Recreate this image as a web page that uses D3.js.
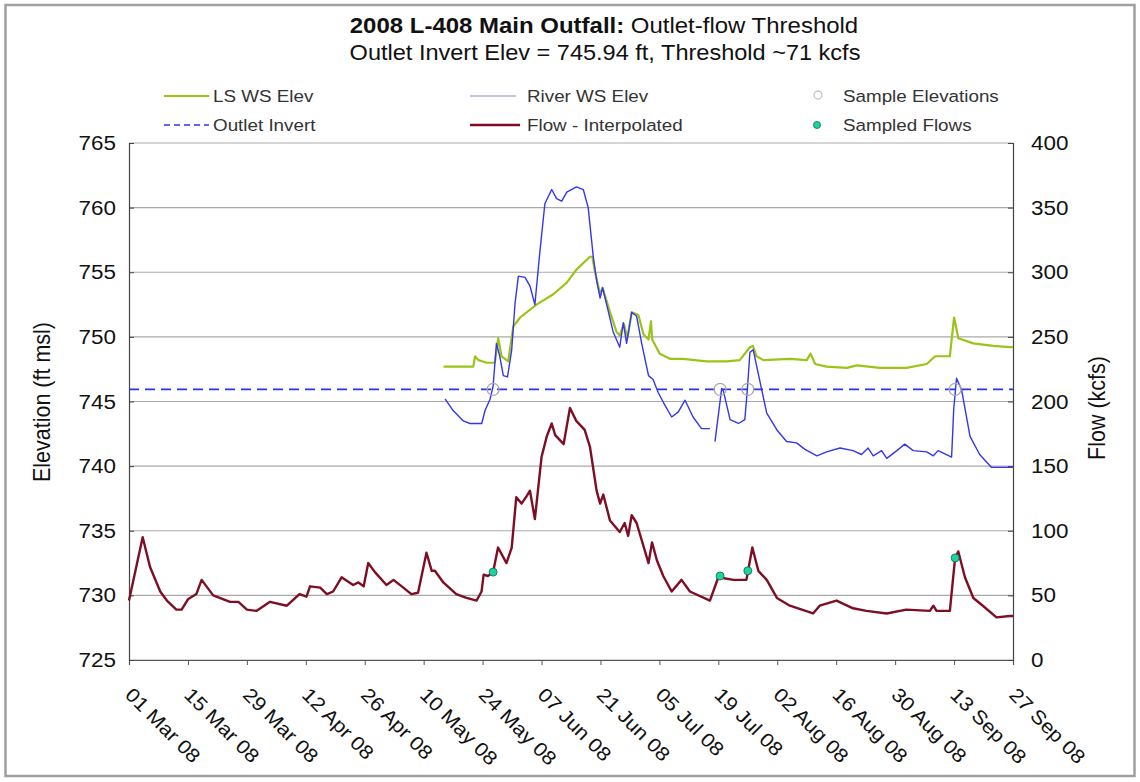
<!DOCTYPE html>
<html>
<head>
<meta charset="utf-8">
<script src="https://cdn.jsdelivr.net/npm/d3@7"></script>
<style>
  html, body { margin: 0; padding: 0; background: #fff; }
  svg { display: block; font-family: "Liberation Sans", Arial, sans-serif; }
</style>
</head>
<body>
<svg id="chart" width="1140" height="782"></svg>
<script>
// ---------------- DATA ----------------
const titleBold = "2008 L-408 Main Outfall:";
const titleRest = " Outlet-flow Threshold";
const subtitle = "Outlet Invert Elev = 745.94 ft, Threshold ~71 kcfs";

const xTickLabels = ["01 Mar 08","15 Mar 08","29 Mar 08","12 Apr 08","26 Apr 08","10 May 08","24 May 08",
  "07 Jun 08","21 Jun 08","05 Jul 08","19 Jul 08","02 Aug 08","16 Aug 08","30 Aug 08","13 Sep 08","27 Sep 08"];
const elevTicks = [725,730,735,740,745,750,755,760,765];
const flowTicks = [0,50,100,150,200,250,300,350,400];

const outletInvert = 745.94;

// Flow - Interpolated (kcfs)
const flowDates = ["2008-03-01 00","2008-03-04 06","2008-03-06 00","2008-03-08 10","2008-03-10 00","2008-03-12 06",
  "2008-03-13 12","2008-03-15 00","2008-03-17 00","2008-03-18 06","2008-03-21 00","2008-03-25 00","2008-03-27 00",
  "2008-03-29 00","2008-03-31 06","2008-04-03 12","2008-04-07 12","2008-04-10 12","2008-04-12 04","2008-04-13 00",
  "2008-04-15 10","2008-04-17 00","2008-04-18 12","2008-04-20 12","2008-04-23 06","2008-04-24 12","2008-04-25 18",
  "2008-04-26 20","2008-04-28 10","2008-05-01 04","2008-05-02 20","2008-05-05 04","2008-05-07 02","2008-05-08 16",
  "2008-05-10 16","2008-05-11 22","2008-05-12 16","2008-05-14 16","2008-05-17 18","2008-05-20 04","2008-05-22 14",
  "2008-05-23 18","2008-05-24 06","2008-05-25 06","2008-05-26 12","2008-05-27 16","2008-05-29 16","2008-05-30 22",
  "2008-06-01 00","2008-06-02 06","2008-06-03 12","2008-06-04 06","2008-06-05 10","2008-06-07 00","2008-06-08 06",
  "2008-06-09 10","2008-06-10 06","2008-06-12 06","2008-06-13 18","2008-06-15 06","2008-06-17 06","2008-06-18 12",
  "2008-06-20 02","2008-06-20 22","2008-06-21 16","2008-06-23 06","2008-06-25 14","2008-06-26 18","2008-06-27 14",
  "2008-06-28 10","2008-06-29 14","2008-07-02 10","2008-07-03 06","2008-07-04 10","2008-07-05 22","2008-07-07 22",
  "2008-07-10 06","2008-07-12 06","2008-07-17 00","2008-07-19 00","2008-07-22 14","2008-07-25 16","2008-07-27 02",
  "2008-07-28 12","2008-07-30 12","2008-08-01 22","2008-08-05 00","2008-08-10 12","2008-08-12 02","2008-08-16 02",
  "2008-08-20 00","2008-08-23 04","2008-08-28 00","2008-09-01 16","2008-09-07 06","2008-09-08 02","2008-09-08 20",
  "2008-09-12 00","2008-09-13 06","2008-09-14 00","2008-09-15 14","2008-09-17 14","2008-09-19 20","2008-09-23 02",
  "2008-09-26 06","2008-09-27 00"];
const flowKcfs = [46,95,72,53,46,39,39,47,51,62,50,45,45,39,38,45,42,51,49,57,56,51,53,64,58,60,57,75,68,58,62,56,51,52,
  83,69,69,60,51,48,46,53,66,65,68,87,75,87,126,121,127,131,109,157,173,183,174,167,195,185,178,165,131,121,128,108,
  99,106,96,112,106,75,91,77,65,53,62,53,46,64,62,62,87,69,62,48,42,36,42,46,40,38,36,39,38,42,38,38,79,84,64,48,42,
  33,34,34];

// River WS Elev (ft msl), null = data gap
const riverDates = ["2008-05-15 02","2008-05-17 00","2008-05-19 10","2008-05-21 00","2008-05-23 19","2008-05-24 14",
  "2008-05-25 19","2008-05-26 12","2008-05-27 07","2008-05-28 02","2008-05-28 22","2008-05-29 22","2008-05-30 22",
  "2008-05-31 17","2008-06-01 12","2008-06-03 02","2008-06-04 07","2008-06-05 10","2008-06-06 14","2008-06-07 19",
  "2008-06-09 10","2008-06-10 14","2008-06-11 19","2008-06-13 00","2008-06-15 07","2008-06-16 22","2008-06-18 02",
  "2008-06-19 07","2008-06-20 02","2008-06-20 22","2008-06-21 12","2008-06-22 22","2008-06-24 00","2008-06-25 14",
  "2008-06-26 10","2008-06-27 05","2008-06-28 10","2008-06-29 14","2008-06-30 19","2008-07-02 10","2008-07-03 12",
  "2008-07-04 17","2008-07-06 00","2008-07-07 22","2008-07-09 12","2008-07-11 02","2008-07-13 00","2008-07-15 00",
  "2008-07-17 00","2008-07-17 14","2008-07-18 05","2008-07-19 19","2008-07-20 05","2008-07-21 19","2008-07-23 19",
  "2008-07-25 07","2008-07-25 22","2008-07-26 12","2008-07-27 07","2008-07-28 22","2008-07-30 12","2008-08-01 22",
  "2008-08-04 05","2008-08-06 14","2008-08-08 14","2008-08-11 10","2008-08-13 17","2008-08-16 22","2008-08-20 00",
  "2008-08-22 00","2008-08-23 14","2008-08-24 19","2008-08-26 19","2008-08-28 00","2008-08-30 10","2008-09-01 07",
  "2008-09-03 07","2008-09-06 12","2008-09-08 02","2008-09-09 05","2008-09-12 10","2008-09-12 22","2008-09-13 14",
  "2008-09-14 19","2008-09-16 19","2008-09-19 02","2008-09-21 22","2008-09-26 07","2008-09-27 00"];
const riverElev = [745.2,744.3,743.5,743.3,743.3,744.3,745.2,746.2,749.5,748.5,747.0,746.9,749.0,752.6,754.7,754.6,
  753.9,752.5,756.5,760.3,761.4,760.7,760.5,761.2,761.6,761.4,760.0,756.2,754.4,753.0,753.8,751.9,750.4,749.2,751.1,
  749.5,751.9,751.6,749.5,747.0,746.7,745.7,744.9,743.8,744.2,745.1,743.8,742.9,742.9,null,741.9,746.0,745.8,743.6,
  743.3,743.6,746.0,748.8,749.0,746.5,744.1,742.8,741.9,741.8,741.3,740.8,741.1,741.4,741.2,740.9,741.4,740.8,741.2,
  740.6,741.2,741.7,741.2,741.1,740.8,741.2,740.7,744.4,746.8,745.9,742.3,740.9,739.9,739.9,739.9];

// LS WS Elev (ft msl)
const lsDates = ["2008-05-14 17","2008-05-21 19","2008-05-22 05","2008-05-23 00","2008-05-25 00","2008-05-26 22",
  "2008-05-27 17","2008-05-28 12","2008-05-30 02","2008-05-31 07","2008-06-01 22","2008-06-05 19","2008-06-09 19",
  "2008-06-13 00","2008-06-15 07","2008-06-18 12","2008-06-19 02","2008-06-19 17","2008-06-20 22","2008-06-21 12",
  "2008-06-23 07","2008-06-24 19","2008-06-25 14","2008-06-26 14","2008-06-27 10","2008-06-28 10","2008-06-30 00",
  "2008-07-01 05","2008-07-02 10","2008-07-03 00","2008-07-03 07","2008-07-05 02","2008-07-07 12","2008-07-10 14",
  "2008-07-16 05","2008-07-21 00","2008-07-24 02","2008-07-26 12","2008-07-27 05","2008-07-28 02","2008-07-29 17",
  "2008-08-05 00","2008-08-09 00","2008-08-09 22","2008-08-11 00","2008-08-13 17","2008-08-18 12","2008-08-20 22",
  "2008-08-26 10","2008-09-01 17","2008-09-06 12","2008-09-08 12","2008-09-12 00","2008-09-13 00","2008-09-14 00",
  "2008-09-17 14","2008-09-22 07","2008-09-26 07","2008-09-27 00"];
const lsElev = [747.7,747.7,748.5,748.2,748.0,748.0,749.9,748.5,748.1,750.8,751.5,752.5,753.3,754.2,755.2,756.2,756.2,
  755.0,753.3,753.8,751.9,750.4,750.1,751.0,749.9,751.9,751.7,750.2,749.8,751.2,749.8,748.7,748.3,748.3,748.1,748.1,
  748.2,749.2,749.3,748.5,748.2,748.3,748.2,748.7,747.9,747.7,747.6,747.8,747.6,747.6,747.9,748.5,748.5,751.5,749.9,
  749.5,749.3,749.2,749.2];

// Samples
const sampleDates = ["2008-05-26 12","2008-07-19 10","2008-07-26 00","2008-09-13 06"];
const sampleElev = [745.94,745.94,745.94,745.94];
const sampledFlowKcfs = [68,65,69,79];

// ---------------- CHART ----------------
const parse = d3.timeParse("%Y-%m-%d %H");
const svg = d3.select("#chart");
const m = {left: 129, right: 1013, top: 143, bottom: 660};
const SX = 1.14; // horizontal text stretch of the original picture

const x = d3.scaleTime().domain([parse("2008-03-01 00"), parse("2008-09-27 00")]).range([m.left, m.right]);
const yL = d3.scaleLinear().domain([725, 765]).range([m.bottom, m.top]);
const yR = d3.scaleLinear().domain([0, 400]).range([m.bottom, m.top]);

function txt(parent, px, py, s, opts) {
  opts = opts || {};
  const sx = opts.sx || SX;
  const rot = opts.rotate ? ` rotate(${opts.rotate})` : "";
  const sc = opts.vertical ? `scale(1,${sx})` : `scale(${sx},1)`;
  return parent.append("text")
    .attr("transform", `translate(${px},${py})${rot} ${sc}`)
    .attr("text-anchor", opts.anchor || "start")
    .attr("font-size", opts.size || 16)
    .attr("font-weight", opts.weight || "normal")
    .attr("fill", opts.fill || "#111")
    .text(s);
}

// outer frame
svg.append("rect").attr("x", 5.5).attr("y", 5).attr("width", 1129).attr("height", 771)
  .attr("fill", "none").attr("stroke", "#a0a0a0").attr("stroke-width", 2.5);

// title
const t = txt(svg, 604, 33, "", {anchor: "middle", size: 22, sx: 1.09});
t.append("tspan").attr("font-weight", "bold").text(titleBold);
t.append("tspan").text(titleRest);
txt(svg, 605, 60, subtitle, {anchor: "middle", size: 22, sx: 1.07});

// gridlines
svg.append("g").selectAll("line").data(elevTicks).join("line")
  .attr("x1", m.left).attr("x2", m.right)
  .attr("y1", d => yL(d)).attr("y2", d => yL(d))
  .attr("stroke", "#a9a9a9").attr("stroke-width", 1.2);

// x axis
const tickDates = d3.range(xTickLabels.length).map(i => d3.timeDay.offset(parse("2008-03-01 00"), i * 14));
const gx = svg.append("g").attr("transform", `translate(0,${m.bottom})`)
  .call(d3.axisBottom(x).tickValues(tickDates).tickSize(5).tickFormat(""));
gx.select(".domain").attr("stroke", "#555").attr("stroke-width", 1.2);
gx.selectAll(".tick line").attr("stroke", "#555");
const gxl = svg.append("g");
tickDates.forEach((d, i) => txt(gxl, x(d) - 5, m.bottom + 36, xTickLabels[i], {rotate: 45, size: 19.5, sx: 1.1}));

// left axis
const gl = svg.append("g").attr("transform", `translate(${m.left},0)`)
  .call(d3.axisLeft(yL).tickValues(elevTicks).tickSize(-5).tickFormat(""));
gl.select(".domain").attr("stroke", "#444").attr("stroke-width", 1.2);
gl.selectAll(".tick line").attr("stroke", "#444");
const gll = svg.append("g");
elevTicks.forEach(v => txt(gll, 116, yL(v) + 7, String(v), {anchor: "end", size: 19.5, sx: 1.15}));

// right axis
const gr = svg.append("g").attr("transform", `translate(${m.right},0)`)
  .call(d3.axisRight(yR).tickValues(flowTicks).tickSize(-5).tickFormat(""));
gr.select(".domain").attr("stroke", "#444").attr("stroke-width", 1.2);
gr.selectAll(".tick line").attr("stroke", "#444");
const grl = svg.append("g");
flowTicks.forEach(v => txt(grl, 1031, yR(v) + 7, String(v), {anchor: "start", size: 19.5, sx: 1.15}));

// axis titles
txt(svg, 50, 402, "Elevation (ft msl)", {anchor: "middle", rotate: -90, size: 21.5, vertical: true, sx: 1.12});
txt(svg, 1105, 408, "Flow (kcfs)", {anchor: "middle", rotate: -90, size: 21.5, vertical: true, sx: 1.12});

// series
const flowData = flowDates.map((d, i) => ({date: parse(d), v: flowKcfs[i]}));
const riverData = riverDates.map((d, i) => ({date: parse(d), v: riverElev[i]}));
const lsData = lsDates.map((d, i) => ({date: parse(d), v: lsElev[i]}));

const lineL = d3.line().defined(d => d.v !== null).x(d => x(d.date)).y(d => yL(d.v));
const lineR = d3.line().x(d => x(d.date)).y(d => yR(d.v));

// outlet invert dashed
svg.append("line").attr("x1", m.left).attr("x2", m.right)
  .attr("y1", yL(outletInvert)).attr("y2", yL(outletInvert))
  .attr("stroke", "#2f2ff0").attr("stroke-width", 1.6).attr("stroke-dasharray", "10,6");

svg.append("path").datum(lsData).attr("d", lineL).attr("fill", "none")
  .attr("stroke", "#9cc417").attr("stroke-width", 2.2).attr("stroke-linejoin", "round");
svg.append("path").datum(riverData).attr("d", lineL).attr("fill", "none")
  .attr("stroke", "#3535f2").attr("stroke-width", 1.4).attr("stroke-linejoin", "round");
svg.append("path").datum(flowData).attr("d", lineR).attr("fill", "none")
  .attr("stroke", "#7d0e24").attr("stroke-width", 2.4).attr("stroke-linejoin", "round");

// sample elevations (open circles)
svg.append("g").selectAll("circle").data(sampleDates).join("circle")
  .attr("cx", d => x(parse(d))).attr("cy", (d, i) => yL(sampleElev[i])).attr("r", 6)
  .attr("fill", "none").attr("stroke", "#aaa").attr("stroke-width", 1.3);

// sampled flows
svg.append("g").selectAll("circle").data(sampleDates).join("circle")
  .attr("cx", d => x(parse(d))).attr("cy", (d, i) => yR(sampledFlowKcfs[i])).attr("r", 4)
  .attr("fill", "#1fd3a0").attr("stroke", "#0f6a4a").attr("stroke-width", 0.8);

// legend
const lg = svg.append("g");
function legLine(x1, x2, y, color, width, dash) {
  lg.append("line").attr("x1", x1).attr("x2", x2).attr("y1", y).attr("y2", y)
    .attr("stroke", color).attr("stroke-width", width).attr("stroke-dasharray", dash || null);
}
function legText(xp, y, s) { txt(lg, xp, y + 6, s, {size: 16.5, fill: "#333", sx: 1.14}); }
legLine(164, 209, 96, "#9cc417", 2);
legText(213, 96, "LS WS Elev");
legLine(164, 209, 125, "#2f2ff0", 1.6, "6,4");
legText(213, 125, "Outlet Invert");
legLine(470, 516, 96, "#c0c6e0", 2);
legText(527, 96, "River WS Elev");
legLine(470, 520, 125, "#7d0e24", 2.6);
legText(527, 125, "Flow - Interpolated");
lg.append("circle").attr("cx", 818).attr("cy", 95).attr("r", 4).attr("fill", "none")
  .attr("stroke", "#c8c0c8").attr("stroke-width", 1.3);
legText(843, 96, "Sample Elevations");
lg.append("circle").attr("cx", 817).attr("cy", 125).attr("r", 3.5).attr("fill", "#1fd3a0")
  .attr("stroke", "#0f6a4a").attr("stroke-width", 0.8);
legText(843, 125, "Sampled Flows");
</script>
</body>
</html>
